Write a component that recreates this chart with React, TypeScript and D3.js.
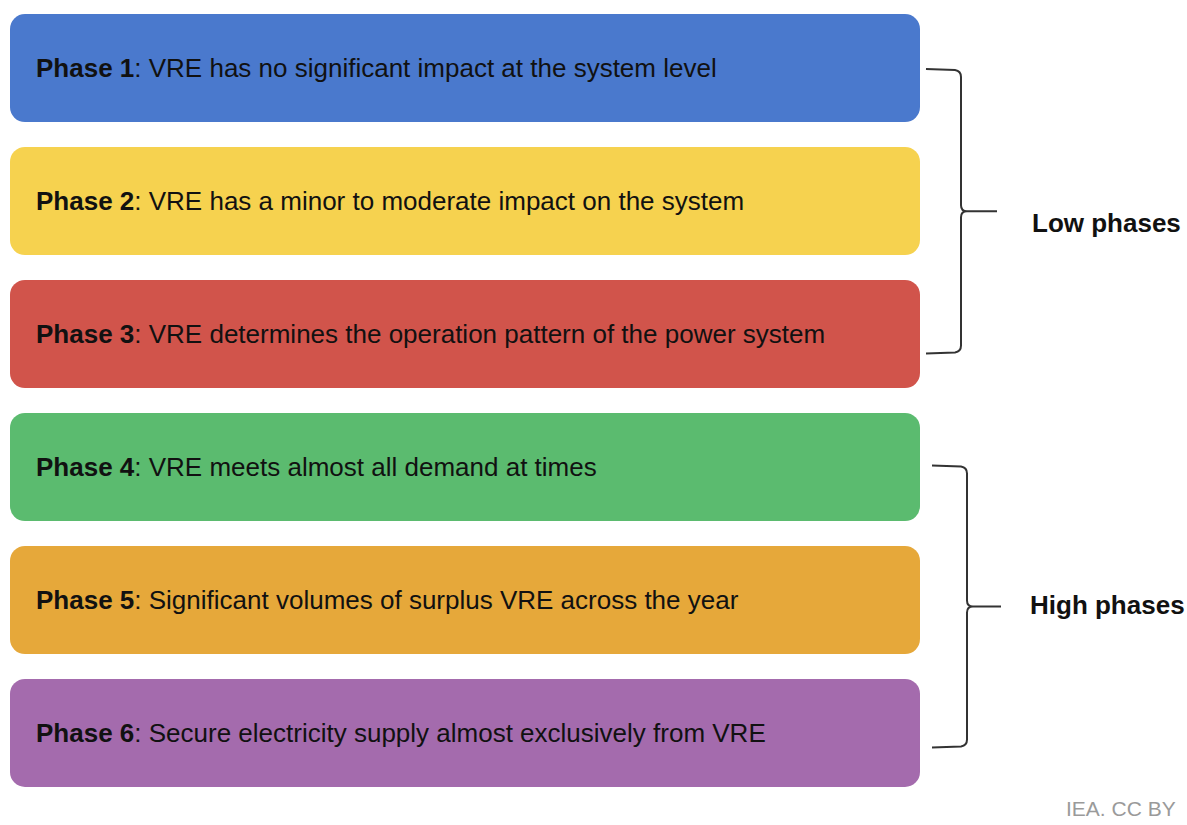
import { useMemo } from "react";
import * as d3 from "d3";

// phases, top to bottom
const phaseLabels = ["Phase 1", "Phase 2", "Phase 3", "Phase 4", "Phase 5", "Phase 6"];
const phaseTexts = [
  "VRE has no significant impact at the system level",
  "VRE has a minor to moderate impact on the system",
  "VRE determines the operation pattern of the power system",
  "VRE meets almost all demand at times",
  "Significant volumes of surplus VRE across the year",
  "Secure electricity supply almost exclusively from VRE",
];
const phaseColors = ["#4a79cd", "#f6d24f", "#d1544b", "#5bbb6f", "#e6a83a", "#a46bad"];

// groups marked by braces: first/last phase index
const groupLabels = ["Low phases", "High phases"];
const groupStart = [0, 3];
const groupEnd = [2, 5];

const W = 1187;
const H = 825;
const font = "'Liberation Sans', Arial, sans-serif";

const App = () => {
  const y = useMemo(
    () =>
      d3
        .scaleBand<string>()
        .domain(phaseLabels)
        .range([14, 787])
        .paddingInner(0.187)
        .paddingOuter(0),
    []
  );
  const x0 = 10;
  const boxW = 910;
  const half = y.bandwidth() / 2;

  // curly brace opening to the left, point on the right
  const bracePath = (top: number, bottom: number, left: number, stemX: number, tipX: number, midY: number) => {
    const r = 6;
    const p = d3.path();
    p.moveTo(left, top);
    p.lineTo(stemX - r, top + 1);
    p.quadraticCurveTo(stemX, top + 2, stemX, top + r + 2);
    p.lineTo(stemX, midY - r);
    p.quadraticCurveTo(stemX, midY, stemX + r, midY);
    p.lineTo(tipX, midY);
    p.moveTo(stemX + r, midY);
    p.quadraticCurveTo(stemX, midY, stemX, midY + r);
    p.lineTo(stemX, bottom - r - 2);
    p.quadraticCurveTo(stemX, bottom - 2, stemX - r, bottom - 1);
    p.lineTo(left, bottom);
    return p.toString();
  };

  return (
    <svg width={W} height={H} style={{ display: "block", position: "absolute", left: 0, top: 0 }}>
      <rect width={W} height={H} fill="#ffffff" />
      {phaseLabels.map((ph, i) => {
        const top = y(ph)!;
        return (
          <g key={ph}>
            <rect x={x0} y={top} width={boxW} height={y.bandwidth()} rx={15} ry={15} fill={phaseColors[i]} />
            <text
              x={36}
              y={top + half}
              dy="0.36em"
              fontFamily={font}
              fontSize={26}
              fill="#111111"
            >
              <tspan fontWeight="bold">{ph}</tspan>
              <tspan>: {phaseTexts[i]}</tspan>
            </text>
          </g>
        );
      })}
      {groupLabels.map((g, i) => {
        const top = y(phaseLabels[groupStart[i]])! + half + (i === 0 ? 1 : -1.5);
        const bottom = y(phaseLabels[groupEnd[i]])! + half + (i === 0 ? 19.5 : 14.5);
        const midY = (top + bottom) / 2;
        const left = i === 0 ? 926 : 932;
        const stemX = i === 0 ? 961 : 967;
        const tipX = i === 0 ? 997 : 1001;
        return (
          <g key={g}>
            <path
              d={bracePath(top, bottom, left, stemX, tipX, midY)}
              fill="none"
              stroke="#333333"
              strokeWidth={2}
            />
            <text
              x={i === 0 ? 1032 : 1030}
              y={midY + (i === 0 ? 11 : -2)}
              dy="0.36em"
              fontFamily={font}
              fontSize={26}
              fontWeight="bold"
              fill="#111111"
            >
              {g}
            </text>
          </g>
        );
      })}
      <text x={1066} y={816} fontFamily={font} fontSize={21} fill="#9a9a9a">
        IEA. CC BY
      </text>
    </svg>
  );
};

export default App;
